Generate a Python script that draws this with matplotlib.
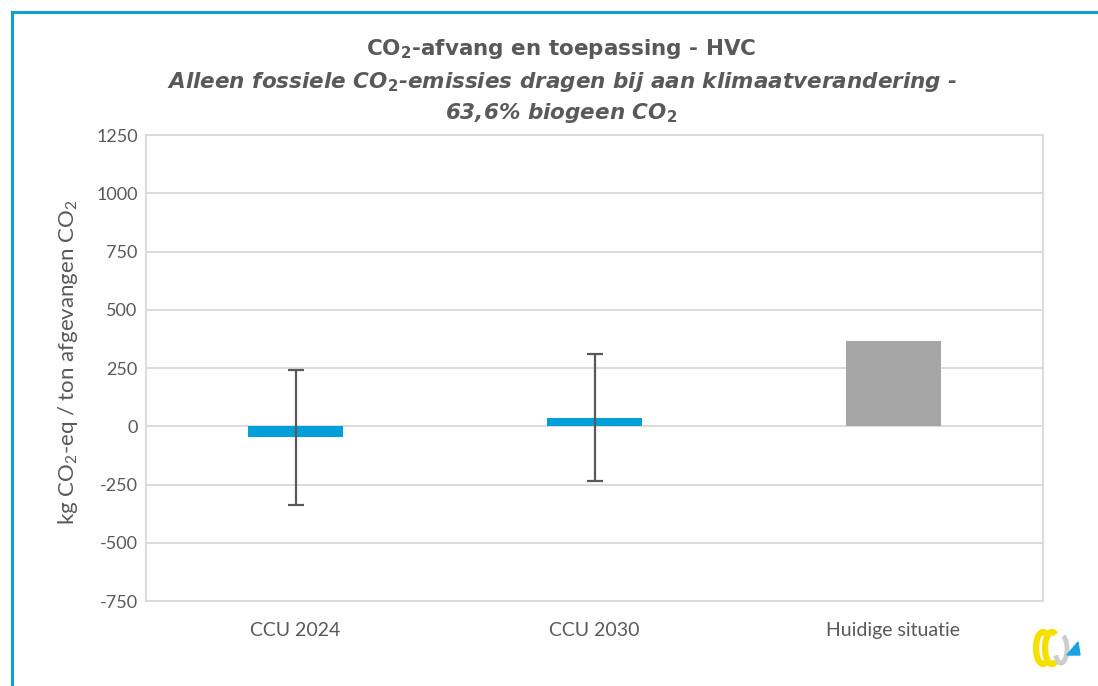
import numpy as np
import matplotlib
matplotlib.use("Agg")
import matplotlib.pyplot as plt
from matplotlib.lines import Line2D
from matplotlib.patches import Arc, Polygon

categories = ["CCU 2024", "CCU 2030", "Huidige situatie"]
values = [-45, 35, 366]
err_lo = [-336, -234, None]   # lower end of range
err_hi = [241, 311, None]     # upper end of range
yticks = [-750, -500, -250, 0, 250, 500, 750, 1000, 1250]

BLUE = "#009fda"
GREY_BAR = "#a5a5a5"
TXT = "#595959"
GRID = "#d9d9d9"

plt.rcParams["font.family"] = ["Lato", "DejaVu Sans"]
plt.rcParams["mathtext.fontset"] = "custom"
plt.rcParams["mathtext.rm"] = "Lato"
plt.rcParams["mathtext.it"] = "Lato:italic"

fig = plt.figure(figsize=(10.98, 6.86), dpi=100)
ax = fig.add_axes([146 / 1098, 1 - 601 / 686, 897 / 1098, 466 / 686])

x = np.arange(len(categories))
colors = [BLUE, BLUE, GREY_BAR]
ax.bar(x, values, width=0.32, color=colors, zorder=3)

# min/max range whiskers for the CCU scenarios
for xi, v, lo, hi in zip(x, values, err_lo, err_hi):
    if lo is None:
        continue
    ax.errorbar(xi, v, yerr=[[v - lo], [hi - v]], fmt="none",
                ecolor=TXT, elinewidth=1.6, capsize=6, capthick=1.6, zorder=4)

ax.set_xlim(-0.5, 2.5)
ax.set_ylim(-750, 1250)
ax.set_yticks(yticks)
ax.set_yticklabels([str(t) for t in yticks])
ax.set_xticks(x)
ax.set_xticklabels(categories)
ax.tick_params(axis="both", length=0, colors=TXT)
ax.tick_params(axis="x", pad=15, labelsize=14)
ax.tick_params(axis="y", pad=6, labelsize=13)
ax.grid(axis="y", color=GRID, lw=1.3, zorder=0)
for sp in ax.spines.values():
    sp.set_color(GRID)
    sp.set_linewidth(1.3)

ax.set_ylabel(r"kg CO$_2$-eq / ton afgevangen CO$_2$", fontsize=16,
              color=TXT)
ax.yaxis.set_label_coords(-0.074, 0.513)

# title block: DejaVu bold to get the wide, heavy heading
tfont = dict(ha="center", va="center", fontsize=15.5, color=TXT,
             family="DejaVu Sans", weight="bold")
fig.text(0.511, 0.928, r"CO$_\mathbf{2}$-afvang en toepassing - HVC", **tfont)
fig.text(0.512, 0.881,
         r"Alleen fossiele CO$_\mathbf{2}$-emissies dragen bij aan klimaatverandering -",
         style="italic", **tfont)
fig.text(0.511, 0.836, r"63,6% biogeen CO$_\mathbf{2}$", style="italic", **tfont)

# blue slide frame (top and left edges)
fig.add_artist(Line2D([12 / 1098, 12 / 1098], [0, 1 - 12 / 686],
                      transform=fig.transFigure, color="#0fa0d8", lw=2.2))
fig.add_artist(Line2D([12 / 1098, 1], [1 - 12 / 686, 1 - 12 / 686],
                      transform=fig.transFigure, color="#0fa0d8", lw=2.2))

# small logo, bottom right
lg = fig.add_axes([1030 / 1098, 1 - 668 / 686, 54 / 1098, 42 / 686])
lg.set_xlim(0, 54)
lg.set_ylim(0, 42)
lg.axis("off")
lg.add_patch(Arc((13, 20), 14, 32, theta1=75, theta2=285,
                 color="#f5e000", lw=4.5))
lg.add_patch(Arc((22, 20), 14, 32, theta1=75, theta2=285,
                 color="#f5e000", lw=4.5))
lg.add_patch(Arc((31, 19), 12, 28, theta1=230, theta2=440,
                 color="#cdcdcd", lw=3.5))
lg.add_patch(Polygon([[37, 13], [50, 13], [48, 26]],
                     closed=True, color="#1aa3e0"))

fig.savefig("out.png", dpi=100, facecolor="white")
